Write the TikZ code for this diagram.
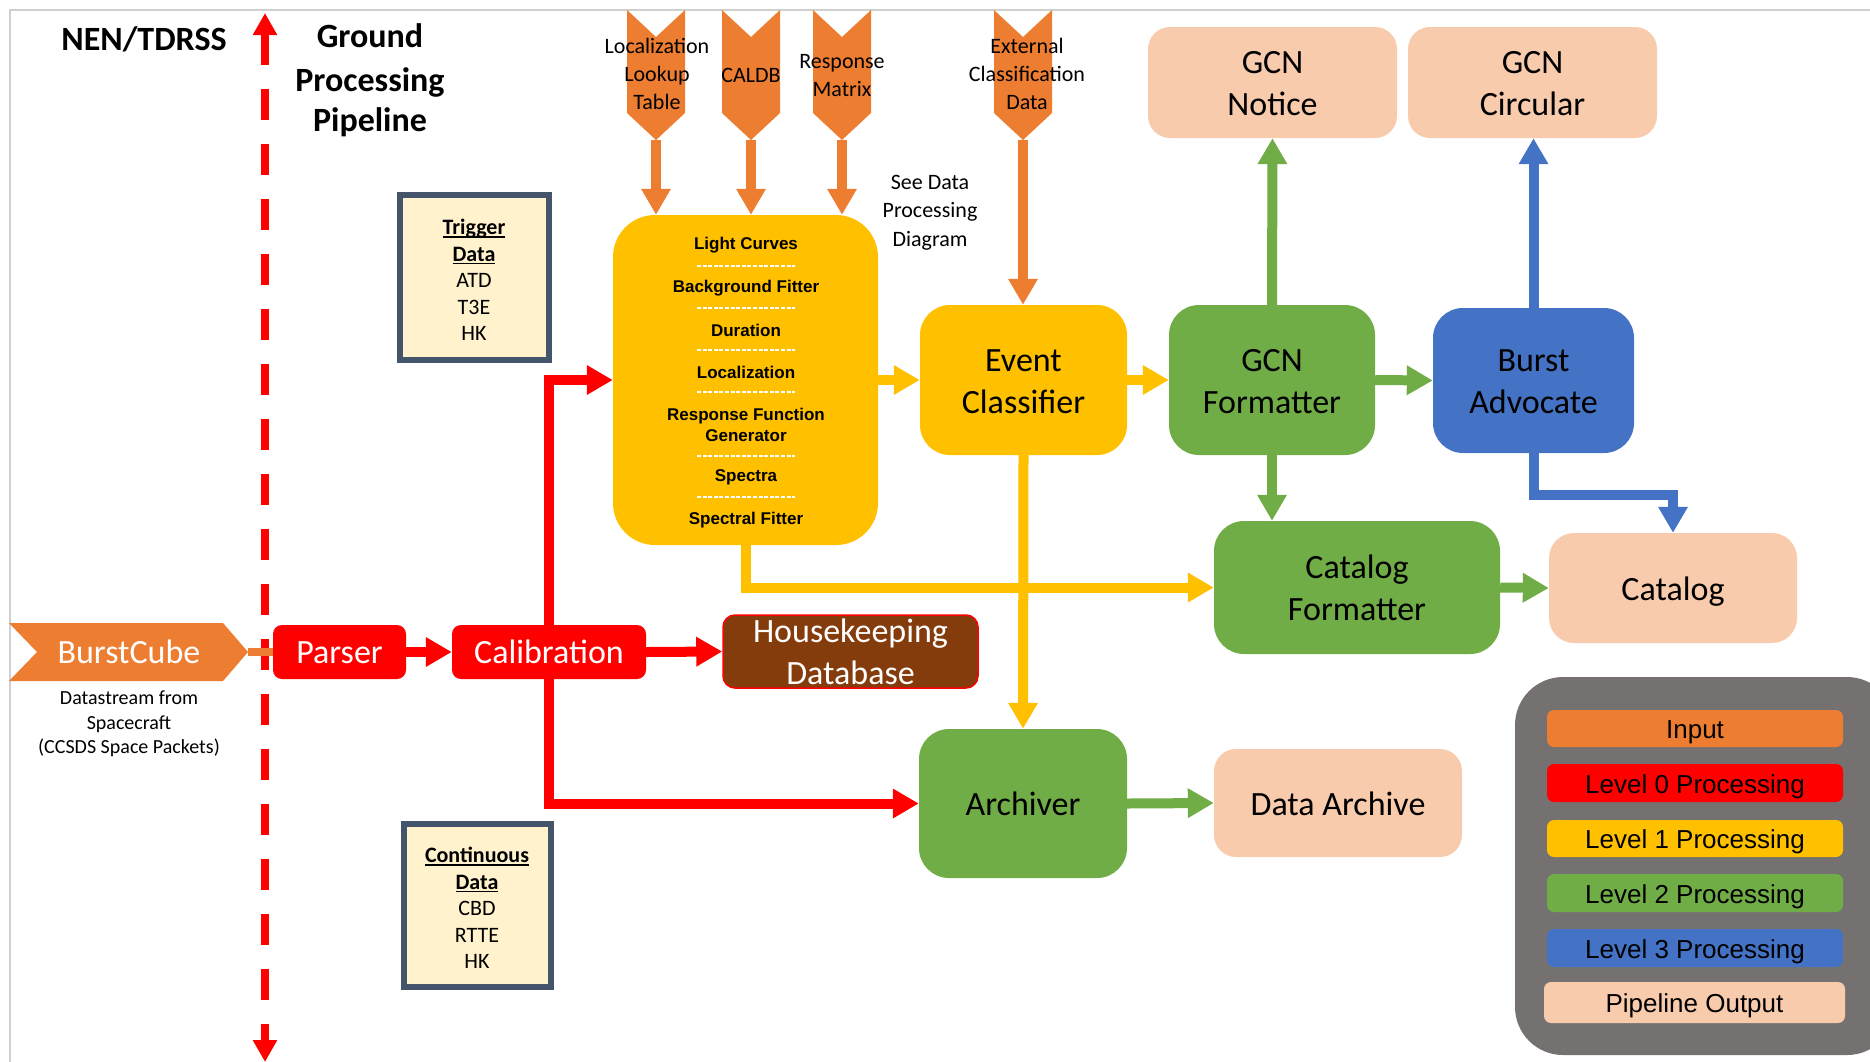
\documentclass[tikz,border=0pt]{standalone}
\usepackage{fontspec}
\setmainfont{Carlito}
\newfontfamily\arialf{Liberation Sans}
\usetikzlibrary{arrows.meta}
\definecolor{cOrange}{HTML}{ED7D31}
\definecolor{cRed}{HTML}{FF0000}
\definecolor{cYellow}{HTML}{FFC000}
\definecolor{cGreen}{HTML}{70AD47}
\definecolor{cBlue}{HTML}{4472C4}
\definecolor{cPeach}{HTML}{F8CBAD}
\definecolor{cBrown}{HTML}{843C0C}
\definecolor{cGray}{HTML}{767171}
\definecolor{cSlate}{HTML}{44546A}
\definecolor{cCream}{HTML}{FFF2CC}
\definecolor{cFrame}{HTML}{D0D0D0}
\newcommand\ulbold[1]{\setbox0\hbox{\bfseries #1}\rlap{\rule[-3pt]{\wd0}{1.4pt}}\box0}
\begin{document}
\begin{tikzpicture}[x=1pt,y=-1pt,
  arr/.style={line width=10pt,-{Triangle[length=26pt,width=28pt]}},
  bx/.style={inner sep=0pt, align=center, font=\fontsize{34}{42}\selectfont, text=black},
  one/.style={text height=24pt, text depth=0pt},
  two/.style={text height=66pt, text depth=0pt},
  lbl/.style={inner sep=0pt, align=center, font=\fontsize{22}{28}\selectfont, text=black},
  lbtext/.style={inner sep=0pt, align=center, font=\arialf\bfseries\fontsize{17}{21}\selectfont},
  leg/.style={inner sep=0pt, minimum width=296pt, rounded corners=7pt, text height=20pt, text depth=0pt, font=\arialf\fontsize{26}{30}\selectfont},
  databox/.style={draw=cSlate, line width=6pt, fill=cCream, inner sep=0pt},
  datatext/.style={inner sep=0pt, align=center, font=\fontsize{22}{26.5}\selectfont}
]
\useasboundingbox (0,0) rectangle (1870,1061);
\clip (0,0) rectangle (1870,1061);
% frame
\draw[cFrame, line width=1.5pt] (10,1080) -- (10,10) -- (1880,10);

% separator (dashed red)
\draw[cRed, line width=8pt, dash pattern=on 31pt off 24pt,
  {Triangle[length=22pt,width=23pt]}-{Triangle[length=22pt,width=23pt]}] (265,13) -- (265,1062);

% headings
\node[font=\bfseries\fontsize{34}{41}\selectfont, anchor=base, inner sep=0pt] (nen) at (144,50) {NEN/TDRSS};
\node[font=\bfseries\fontsize{34}{41}\selectfont, anchor=base, inner sep=0pt] (gp1) at (370,47) {Ground};
\node[font=\bfseries\fontsize{34}{41}\selectfont, anchor=base, inner sep=0pt] (gp2) at (370,91) {Processing};
\node[font=\bfseries\fontsize{34}{41}\selectfont, anchor=base, inner sep=0pt] (gp3) at (370,131) {Pipeline};

% input chevrons
\foreach \c/\n in {656/1,751/2,842/3,1023/4}{
  \fill[cOrange] (\c-29,10) -- (\c,37) -- (\c+29,10) -- (\c+29,113) -- (\c,140) -- (\c-29,113) -- cycle;
  \coordinate (ch\n) at (\c,140);
}
\node[lbl] (lut) at (657,74) {Localization\\Lookup\\Table};
\node[lbl] (caldb) at (751,75) {CALDB};
\node[lbl] (resp) at (842,75.5) {Response\\Matrix};
\node[lbl] (ext) at (1027,73.5) {External\\Classification\\Data};
\node[lbl, font=\fontsize{22}{28.5}\selectfont] (see) at (930,212.5) {See Data\\Processing\\Diagram};

% data boxes
\node[databox, minimum width=149pt, minimum height=165pt] (trig) at (474.5,277.5) {};
\node[datatext] (trigtxt) at (474,280) {\ulbold{Trigger}\\\ulbold{Data}\\ATD\\T3E\\HK};
\node[databox, minimum width=147pt, minimum height=163pt] (cont) at (477.5,905.5) {};
\node[datatext] (conttxt) at (477,908) {\ulbold{Continuous}\\\ulbold{Data}\\CBD\\RTTE\\HK};

% light box (level 1)
\node[fill=cYellow, rounded corners=42pt, minimum width=265pt, minimum height=330pt, inner sep=0pt] (light) at (745.5,380) {};
\foreach \yy/\t [count=\i] in {245/Light Curves, 288/Background Fitter, 330/Duration, 372/Localization, 424.5/{Response Function\\Generator}, 477/Spectra, 520/Spectral Fitter}
  \node[lbtext] (lb\i) at (746,\yy) {\t};
\foreach \yy in {266,308,350,392,456,497}
  \draw[white, line width=1.8pt, dash pattern=on 4pt off 1.6pt] (697,\yy) -- (795,\yy);

% main boxes
\node[bx, two, fill=cYellow, rounded corners=30pt, minimum width=207pt, minimum height=150pt] (evc) at (1023.5,380) {Event\\Classifier};
\node[bx, two, fill=cGreen, rounded corners=30pt, minimum width=206pt, minimum height=150pt] (gcnf) at (1272,380) {GCN\\Formatter};
\node[bx, two, fill=cBlue, rounded corners=30pt, minimum width=201pt, minimum height=145pt] (burst) at (1533.5,380.5) {Burst\\Advocate};
\node[bx, two, fill=cPeach, rounded corners=22pt, minimum width=249pt, minimum height=111pt] (notice) at (1272.5,82.5) {GCN\\Notice};
\node[bx, two, fill=cPeach, rounded corners=22pt, minimum width=249pt, minimum height=111pt] (circ) at (1532.5,82.5) {GCN\\Circular};
\node[bx, two, fill=cGreen, rounded corners=30pt, minimum width=286pt, minimum height=133pt] (catf) at (1357,587.5) {Catalog\\Formatter};
\node[bx, one, fill=cPeach, rounded corners=25pt, minimum width=248pt, minimum height=110pt] (catalog) at (1673,588) {Catalog};
\node[bx, one, fill=cGreen, rounded corners=30pt, minimum width=208pt, minimum height=149pt] (arch) at (1023,803.5) {Archiver};
\node[bx, one, fill=cPeach, rounded corners=22pt, minimum width=248pt, minimum height=108pt] (darch) at (1338,803) {Data Archive};
\node[bx, two, fill=cBrown, draw=cRed, line width=1.5pt, text=white, rounded corners=12pt, minimum width=255pt, minimum height=73pt] (hk) at (850.5,651.5) {Housekeeping\\Database};
\node[bx, text height=22pt, text depth=0pt, fill=cRed, text=white, rounded corners=9pt, minimum width=133pt, minimum height=54pt] (parser) at (339.5,652) {Parser};
\node[bx, text height=22pt, text depth=0pt, fill=cRed, text=white, rounded corners=9pt, minimum width=194pt, minimum height=54pt] (calib) at (549,652) {Calibration};

% BurstCube source
\fill[cOrange] (9,623) -- (223,623) -- (248,652) -- (223,681) -- (9,681) -- (37,652) -- cycle;
\coordinate (bctip) at (248,652);
\node[bx, text height=22pt, text depth=0pt, text=white] (bc) at (129,652) {BurstCube};
\node[lbl, font=\fontsize{20}{24.5}\selectfont] (ds) at (129,724) {Datastream from\\Spacecraft\\(CCSDS Space Packets)};
\draw[cOrange, line width=8pt] (bctip) -- (parser.west);

% orange input arrows
\draw[arr, cOrange] (ch1) -- (ch1 |- light.north);
\draw[arr, cOrange] (ch2) -- (ch2 |- light.north);
\draw[arr, cOrange] (ch3) -- (ch3 |- light.north);
\draw[arr, cOrange] (ch4) -- (ch4 |- evc.north);

% red level 0 arrows
\draw[arr, cRed] (parser.east) -- (calib.west);
\draw[arr, cRed] (calib.east) -- (hk.west);
\draw[arr, cRed] (calib.north) |- (light.west);
\draw[arr, cRed] (calib.south) |- (arch.west);

% yellow level 1 arrows
\draw[arr, cYellow] (light.south) |- (catf.west);
\draw[arr, cYellow] (evc.south) -- (arch.north);
\draw[arr, cYellow] (light.east) -- (evc.west);
\draw[arr, cYellow] (evc.east) -- (gcnf.west);

% green level 2 arrows
\draw[arr, cGreen] (gcnf.north) -- (notice.south);
\draw[arr, cGreen] (gcnf.east) -- (burst.west);
\draw[arr, cGreen] (gcnf.south) -- (gcnf.south |- catf.north);
\draw[arr, cGreen] (catf.east) -- (catalog.west);
\draw[arr, cGreen] (arch.east) -- (darch.west);

% blue level 3 arrows
\draw[arr, cBlue] (burst.north) -- (burst.north |- circ.south);
\draw[arr, cBlue] (burst.south) -- ++(0,42) -| (catalog.north);

% legend
\node[fill=cGray, rounded corners=48pt, minimum width=380pt, minimum height=378pt, inner sep=0pt] (legend) at (1705,866) {};
\node[leg, fill=cOrange, minimum height=37pt] (l0) at (1695,728.5) {Input};
\node[leg, fill=cRed, minimum height=38pt] (l1) at (1695,783) {Level 0 Processing};
\node[leg, fill=cYellow, minimum height=37pt] (l2) at (1695,838.5) {Level 1 Processing};
\node[leg, fill=cGreen, minimum height=38pt] (l3) at (1695,893) {Level 2 Processing};
\node[leg, fill=cBlue, minimum height=38pt] (l4) at (1695,948) {Level 3 Processing};
\node[leg, fill=cPeach, minimum height=41pt, minimum width=301pt] (l5) at (1694.5,1002.5) {Pipeline Output};
\end{tikzpicture}
\end{document}
